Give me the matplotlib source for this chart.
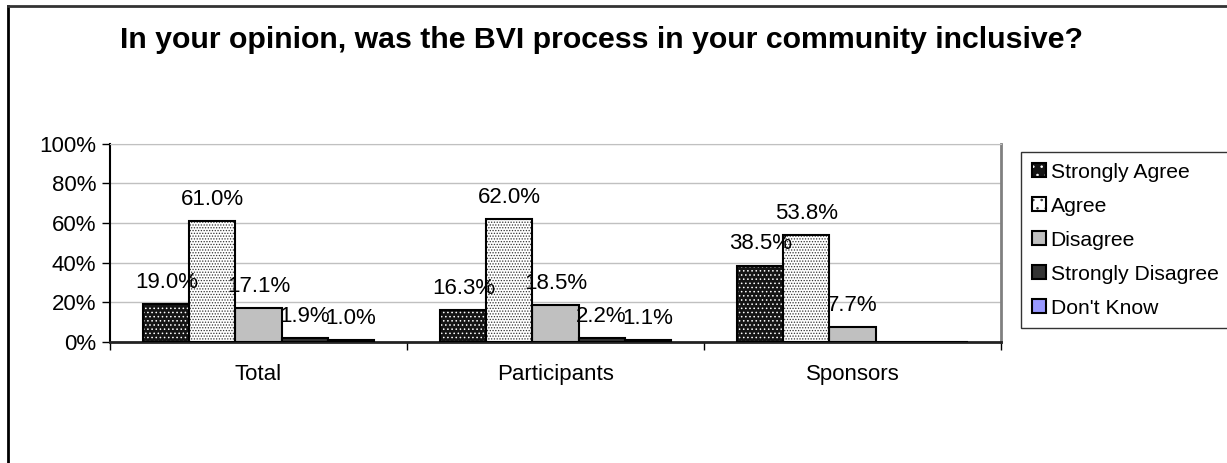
import matplotlib
matplotlib.use('Agg')
import matplotlib.pyplot as plt
import numpy as np
from matplotlib.patches import Patch
from matplotlib.lines import Line2D

plt.rcParams['font.family'] = ['Liberation Sans', 'DejaVu Sans']
plt.rcParams['hatch.linewidth'] = 0.6

groups = ['Total', 'Participants', 'Sponsors']
answers = ['Strongly Agree', 'Agree', 'Disagree', 'Strongly Disagree', "Don't Know"]
strongly_agree = [19.0, 16.3, 38.5]
agree = [61.0, 62.0, 53.8]
disagree = [17.1, 18.5, 7.7]
strongly_disagree = [1.9, 2.2, 0.0]
dont_know = [1.0, 1.1, 0.0]
series = [strongly_agree, agree, disagree, strongly_disagree, dont_know]
yticks = [0, 20, 40, 60, 80, 100]

# face colour, hatch, hatch colour
styles = [('#141414', '....', 'white'),
          ('white', '......', '#333333'),
          ('#c0c0c0', '', None),
          ('#333333', '', None),
          ('#9999ff', '', None)]

FS = 16

fig = plt.figure(figsize=(12.27, 4.63), dpi=100)
ax = fig.add_axes([110/1227, 1-342/463, (1001-110)/1227, (342-143.5)/463])

x = np.arange(len(groups))
w = 0.155
for i, vals in enumerate(series):
    face, hatch, hcol = styles[i]
    pos = x + (i - 2) * w
    if hatch:
        ax.bar(pos, vals, w, color=face, edgecolor=hcol, hatch=hatch, linewidth=0, zorder=3)
        ax.bar(pos, vals, w, fill=False, edgecolor='black', linewidth=1.5, zorder=4)
    else:
        ax.bar(pos, vals, w, color=face, edgecolor='black', linewidth=1.5, zorder=3)
    for p, v in zip(pos, vals):
        if v > 0:
            ax.annotate('%.1f%%' % v, (p, v), xytext=(0, 8), textcoords='offset points',
                        ha='center', va='bottom', fontsize=FS, zorder=5)

ax.set_xlim(-0.5, 2.5)
ax.set_ylim(0, 100)
ax.set_yticks(yticks)
ax.set_yticklabels(['%d%%' % t for t in yticks], fontsize=FS)
ax.set_xticks(x)
ax.set_xticklabels(groups, fontsize=FS)
ax.tick_params(axis='x', which='major', length=0, pad=16)
ax.set_xticks([-0.5, 0.5, 1.5, 2.5], minor=True)
ax.tick_params(axis='x', which='minor', length=6, direction='out', width=1)
ax.tick_params(axis='y', length=6, direction='out', width=1, pad=4)
ax.yaxis.grid(True, color='#c0c0c0', linewidth=1, zorder=0)
ax.set_axisbelow(True)
ax.spines['left'].set_color('black')
ax.spines['left'].set_linewidth(1.5)
ax.spines['bottom'].set_color('#222222')
ax.spines['bottom'].set_linewidth(2)
ax.spines['top'].set_color('#c0c0c0')
ax.spines['right'].set_color('#808080')
ax.spines['right'].set_linewidth(2)

fig.text(601/1227, 1-40/463, 'In your opinion, was the BVI process in your community inclusive?',
         ha='center', va='center', fontsize=21.8, fontweight='bold')

handles = []
for face, hatch, hcol in styles:
    if hatch:
        handles.append((Patch(facecolor=face, edgecolor=hcol, hatch='..', linewidth=0),
                        Patch(fill=False, edgecolor='black', linewidth=1.5)))
    else:
        handles.append(Patch(facecolor=face, edgecolor='black', linewidth=1.5))
leg = fig.legend(handles, answers, loc='upper left', bbox_to_anchor=(1021/1227, 1-152/463),
                 fontsize=15.2, frameon=True, fancybox=False, edgecolor='black',
                 handlelength=0.68, handleheight=0.68, handletextpad=0.22,
                 labelspacing=0.71, borderpad=0.5, borderaxespad=0)
leg.get_frame().set_linewidth(1)

# outer chart border (top and left visible)
fig.add_artist(Line2D([8/1227, 8/1227], [0, 1-6/463], color='black', linewidth=2, transform=fig.transFigure))
fig.add_artist(Line2D([8/1227, 1], [1-6/463, 1-6/463], color='#333333', linewidth=2, transform=fig.transFigure))

fig.savefig('out.png', dpi=100)
